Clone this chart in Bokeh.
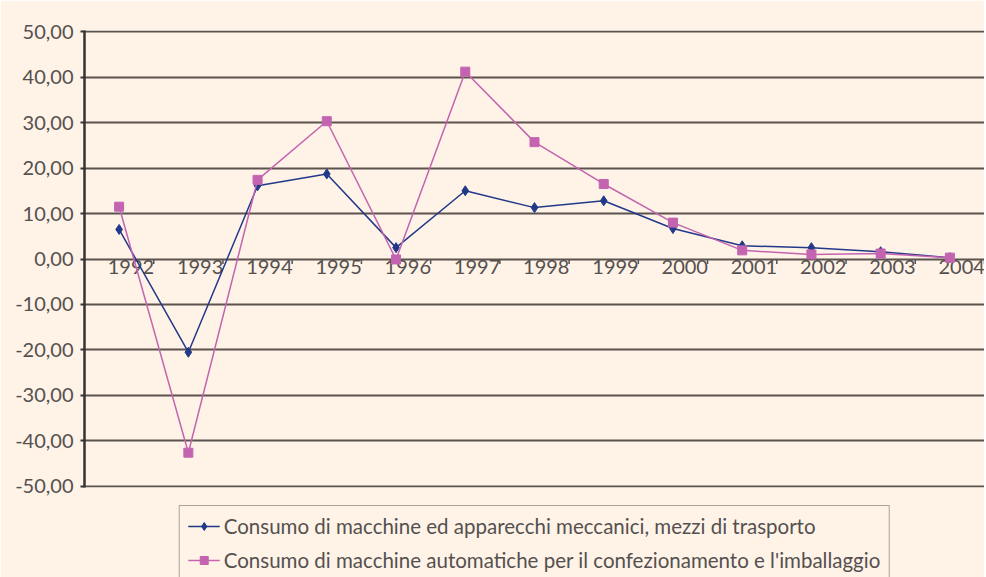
from bokeh.plotting import figure
from bokeh.models import FixedTicker, CustomJSTickFormatter, Legend, LegendItem, LinearAxis, Range1d, Grid
from bokeh.core.properties import value
from bokeh.embed import file_html
from bokeh.resources import INLINE

years = [1992, 1993, 1994, 1995, 1996, 1997, 1998, 1999, 2000, 2001, 2002, 2003, 2004]
meccanici = [6.5, -20.5, 16.1, 18.7, 2.5, 15.0, 11.3, 12.8, 6.7, 2.9, 2.5, 1.6, 0.3]
imballaggio = [11.5, -42.6, 17.4, 30.3, -0.1, 41.2, 25.7, 16.5, 8.0, 1.9, 1.0, 1.2, 0.3]
y_ticks = [-50, -40, -30, -20, -10, 0, 10, 20, 30, 40, 50]
label1 = "Consumo di macchine ed apparecchi meccanici, mezzi di trasporto"
label2 = "Consumo di macchine automatiche per il confezionamento e l'imballaggio"

BG = "#FEF3E6"
FONT = "Lato"
TXT = "#555050"
BLUE = "#22398A"
PINK = "#C464B0"
GRID = "#5a534e"

FRAME_H = 457
y_lo, y_hi = -50.25, 50.25

p = figure(frame_width=900, frame_height=FRAME_H, output_backend="svg", toolbar_location=None,
           x_range=Range1d(years[0] - 0.5, years[-1] + 0.5), y_range=Range1d(y_lo, y_hi),
           x_axis_location=None, y_axis_location=None,
           background_fill_color=BG, border_fill_color=BG,
           min_border_top=30, min_border_right=0, min_border_left=84, min_border_bottom=0)
p.outline_line_color = None
for g in p.grid:
    g.visible = False

# y axis
yax = LinearAxis(ticker=FixedTicker(ticks=y_ticks),
                 formatter=CustomJSTickFormatter(code="return tick.toFixed(2).replace('.', ',');"))
yax.axis_line_color = "#333333"
yax.axis_line_width = 2.5
yax.major_tick_line_color = "#333333"
yax.major_tick_line_width = 2
yax.major_tick_out = 4
yax.major_tick_in = 0
yax.minor_tick_line_color = None
yax.major_label_text_font = FONT
yax.major_label_text_font_size = "20px"
yax.major_label_text_color = TXT
yax.major_label_standoff = 7
p.add_layout(yax, "left")

p.add_layout(Grid(dimension=1, ticker=yax.ticker, grid_line_color=GRID, grid_line_width=2))

# category axis drawn along y = 0: boundary ticks and year labels
tick_len = 5 * (y_hi - y_lo) / FRAME_H
bounds = [y - 0.5 for y in years[1:]] + [years[-1] + 0.5]
p.segment(x0=bounds, y0=[0] * len(bounds), x1=bounds, y1=[-tick_len] * len(bounds),
          line_color=GRID, line_width=1.5)
offset = 0.17
p.text(x=[y + offset for y in years], y=[0] * len(years), text=[str(y) for y in years],
       text_font=value(FONT), text_font_size="20px", text_color=TXT,
       text_align="center", text_baseline="top", y_offset=1)

r1l = p.line(years, meccanici, line_color=BLUE, line_width=1.5)
r1m = p.scatter(years, meccanici, marker="diamond", size=10, fill_color=BLUE, line_color=BLUE)
r2l = p.line(years, imballaggio, line_color=PINK, line_width=1.5)
r2m = p.scatter(years, imballaggio, marker="square", size=9, fill_color=PINK, line_color=PINK)

legend = Legend(items=[LegendItem(label=label1, renderers=[r1l, r1m]),
                       LegendItem(label=label2, renderers=[r2l, r2m])],
                location="top_center", orientation="vertical",
                label_text_font=FONT, label_text_font_size="20.5px", label_text_color=TXT,
                glyph_width=32, glyph_height=20, label_standoff=4, spacing=10,
                padding=8, margin=18,
                border_line_color="#555555", border_line_width=1.5,
                background_fill_color=BG, background_fill_alpha=1.0)
p.add_layout(legend, "below")

open("out.html", "w").write(file_html(p, INLINE))
